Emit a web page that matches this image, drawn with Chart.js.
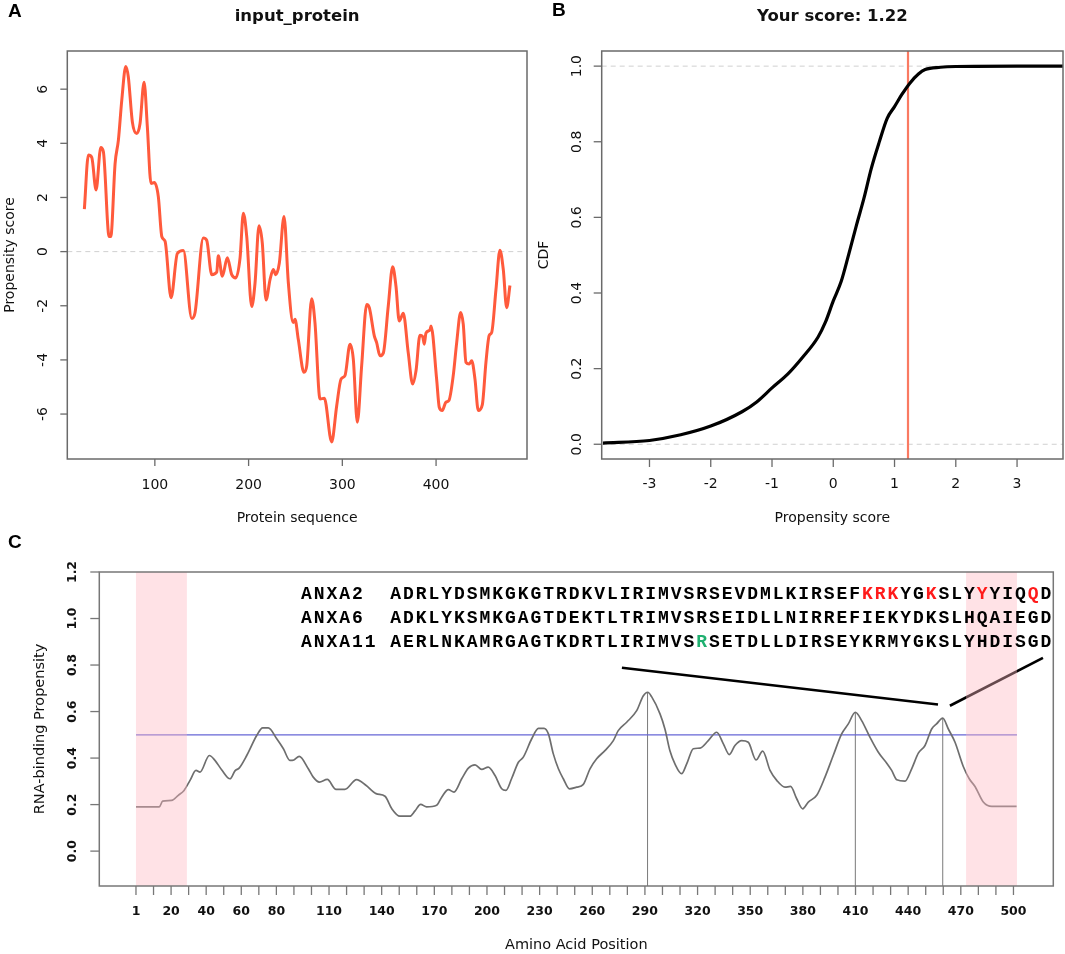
<!DOCTYPE html>
<html><head><meta charset="utf-8">
<script src="https://cdn.jsdelivr.net/npm/chart.js@4.4.0/dist/chart.umd.min.js"></script>
<style>
html,body{margin:0;padding:0;background:#fff;width:1065px;height:954px;overflow:hidden}
canvas{position:absolute;display:block}
</style></head><body>
<canvas id="ca" width="530" height="530" style="left:0;top:0;width:530px;height:530px"></canvas>
<canvas id="cb" width="535" height="530" style="left:530px;top:0;width:535px;height:530px"></canvas>
<canvas id="cc" width="1065" height="424" style="left:0;top:530px;width:1065px;height:424px"></canvas>
<script>
// ---------------- Panel A data ----------------
const posA = [24.8,29.1,32.7,37.3,42.3,45.1,51.2,53.0,57.6,61.1,64.7,69.0,71.7,76.0,80.7,84.2,88.5,92.0,95.9,99.5,103.7,107.4,110.9,117.3,124.0,130.4,139.4,142.9,151.7,155.3,160.7,166.0,167.7,172.0,177.3,182.0,186.3,190.9,194.4,198.0,203.3,206.9,211.1,214.6,218.6,222.9,226.4,228.9,232.8,237.8,242.4,247.5,249.5,253.0,259.1,262.0,267.3,270.8,276.2,280.8,288.6,294.0,298.6,302.8,308.2,311.7,316.0,320.6,326.0,328.8,334.1,336.6,340.2,343.7,349.0,353.7,357.2,360.7,365.0,370.3,375.0,378.6,382.8,385.7,387.4,389.2,393.5,394.6,400.6,403.4,406.6,410.5,413.7,418.3,422.0,426.2,429.0,431.9,435.4,438.0,441.5,445.0,449.3,453.2,456.7,459.3,463.9,468.1,471.7,475.3,478.8];
const scoreA = [1.57,3.57,3.48,2.28,3.85,3.69,0.56,0.56,3.26,4.12,5.59,6.84,6.45,4.79,4.36,4.73,6.26,4.61,2.52,2.55,2.03,0.56,0.38,-1.70,-0.07,0.04,-2.47,-2.25,0.50,0.42,-0.85,-0.76,-0.15,-0.91,-0.23,-0.85,-0.97,-0.23,1.42,0.56,-2.03,-1.15,0.96,0.32,-1.79,-1.03,-0.66,-0.85,-0.42,1.30,-1.15,-2.62,-2.50,-3.24,-4.46,-4.22,-1.74,-2.62,-5.44,-5.42,-7.03,-5.69,-4.71,-4.58,-3.42,-3.97,-6.30,-4.22,-1.95,-2.07,-3.11,-3.36,-3.85,-3.75,-2.01,-0.56,-1.27,-2.56,-2.28,-3.73,-4.89,-4.40,-3.09,-3.14,-3.42,-3.01,-2.89,-2.75,-4.71,-5.75,-5.87,-5.56,-5.50,-4.58,-3.36,-2.25,-2.68,-4.09,-4.15,-4.03,-4.71,-5.87,-5.66,-4.09,-3.09,-2.99,-1.40,0.05,-0.66,-2.07,-1.25];
const xTicksA = [100,200,300,400];
const yTicksA = [-6,-4,-2,0,2,4,6];

// ---------------- Panel B data ----------------
const cdfX = [-3.76,-3.0,-2.49,-2.0,-1.49,-1.25,-1.0,-0.74,-0.5,-0.25,-0.13,0.0,0.13,0.25,0.38,0.5,0.62,0.75,0.88,1.0,1.12,1.25,1.39,1.5,1.75,2.0,3.0,3.77];
const cdfY = [0.003,0.010,0.025,0.048,0.086,0.112,0.149,0.186,0.230,0.283,0.322,0.379,0.431,0.501,0.580,0.650,0.729,0.799,0.862,0.893,0.925,0.955,0.979,0.991,0.997,0.999,1.0,1.0];
const yourScore = 1.22;
const xTicksB = [-3,-2,-1,0,1,2,3];
const yTicksB = [0,0.2,0.4,0.6,0.8,1.0];
const yTickTextB = ["0.0","0.2","0.4","0.6","0.8","1.0"];

// ---------------- Panel C data ----------------
const posC = [0,13.3,15.2,20.3,24.1,27.4,30.8,34.2,36.5,41.8,45,48.8,53.6,56.4,58.9,63.1,68.8,72.2,75.4,80.2,84,87.7,90,93,98.2,101,104.5,109,114,119,125.7,131,136.8,141.9,145.7,150.4,156.1,159,162.2,165.6,171.3,174.2,178,181.2,185.6,189.4,193.2,197,200.7,204.6,208.4,210.8,214,217.9,220.7,225.5,229.3,232.5,235,237.8,240.7,243.5,247,251.1,254.9,258.7,262.5,267.2,272,274.8,279.6,285.3,289.1,291.6,293.8,298.6,301.4,304.3,307.1,310.9,313.8,317.6,321.4,326.1,330.9,334.7,338.1,341.3,345.1,348.9,353.3,357.1,361.3,365.1,369.8,373,376.5,379.9,383.1,387.9,392.6,397.3,402.1,405.9,409.9,413.5,418.2,423,427.8,430.6,433.5,438.2,442,445.8,449.6,453.4,456.2,459.7,462.9,466.7,471.4,474.8,478.1,482.8,487.6,501.8];
const propC = [0.190,0.190,0.215,0.218,0.240,0.261,0.304,0.347,0.340,0.411,0.390,0.350,0.311,0.345,0.358,0.411,0.497,0.530,0.530,0.483,0.440,0.390,0.392,0.407,0.354,0.318,0.297,0.308,0.265,0.265,0.307,0.283,0.247,0.236,0.183,0.150,0.150,0.173,0.201,0.190,0.197,0.232,0.264,0.254,0.311,0.357,0.371,0.351,0.361,0.325,0.268,0.261,0.311,0.382,0.404,0.483,0.528,0.528,0.504,0.418,0.354,0.311,0.268,0.275,0.287,0.354,0.397,0.432,0.475,0.518,0.554,0.604,0.668,0.683,0.664,0.590,0.525,0.430,0.375,0.333,0.375,0.440,0.443,0.475,0.511,0.461,0.415,0.454,0.475,0.468,0.392,0.430,0.347,0.304,0.275,0.278,0.225,0.182,0.211,0.240,0.318,0.411,0.504,0.547,0.597,0.561,0.490,0.425,0.378,0.347,0.307,0.301,0.354,0.421,0.454,0.525,0.547,0.572,0.525,0.468,0.364,0.311,0.278,0.211,0.192,0.192];
const threshold = 0.5;
const thresholdFrom = 0, thresholdTo = 502;
const peakPos = [291.5, 409.9, 459.7];
const peakVal = [0.683, 0.597, 0.572];
const bandStart = [0, 473];
const bandEnd = [29, 502];
const calloutX1 = [276.9, 457.0], calloutY1 = [0.788, 0.630];
const calloutX2 = [463.8, 516.8], calloutY2 = [0.625, 0.831];
const xTickPosC = [0,20,40,60,80,110,140,170,200,230,260,290,320,350,380,410,440,470,500];
const xTickTextC = ["1","20","40","60","80","110","140","170","200","230","260","290","320","350","380","410","440","470","500"];
const yTicksC = [0,0.2,0.4,0.6,0.8,1.0,1.2];
const yTickTextC = ["0.0","0.2","0.4","0.6","0.8","1.0","1.2"];
const seqNames = ["ANXA2","ANXA6","ANXA11"];
const seqs = ["ADRLYDSMKGKGTRDKVLIRIMVSRSEVDMLKIRSEFKRKYGKSLYYYIQQD",
              "ADKLYKSMKGAGTDEKTLTRIMVSRSEIDLLNIRREFIEKYDKSLHQAIEGD",
              "AERLNKAMRGAGTKDRTLIRIMVSRSETDLLDIRSEYKRMYGKSLYHDISGD"];
const redMarks = [[37,38,39,42,46,50],[],[]];
const greenMarks = [[],[],[24]];

// ---------------- helpers ----------------
const SANS = '"DejaVu Sans", Verdana, sans-serif';
const LETTER = '"Liberation Sans", Arial, sans-serif';
function pts(xs, ys){ return xs.map((x,i)=>({x:x, y:ys[i]})); }
function vtext(ctx, t, x, y){ ctx.save(); ctx.translate(x,y); ctx.rotate(-Math.PI/2); ctx.textAlign='center'; ctx.textBaseline='middle'; ctx.fillText(t,0,0); ctx.restore(); }
function setTicks(arr){ return function(s){ s.ticks = arr.map(v=>({value:v})); }; }

function rPlugin(o){
  return {
    id: 'r'+o.key,
    beforeDatasetsDraw(chart){
      const {ctx, chartArea:a, scales:{x,y}} = chart;
      (o.hdash||[]).forEach(v=>{
        const py = y.getPixelForValue(v);
        ctx.save(); ctx.strokeStyle='#d0d0d0'; ctx.lineWidth=1; ctx.setLineDash([5,4]);
        ctx.beginPath(); ctx.moveTo(a.left,py); ctx.lineTo(a.right,py); ctx.stroke(); ctx.restore();
      });
    },
    afterDatasetsDraw(chart){
      const {ctx, chartArea:a, scales:{x,y}} = chart;
      if (o.bands){
        ctx.save(); ctx.fillStyle='rgba(255,182,193,0.40)';
        o.bands[0].forEach((s,i)=>{
          const l = x.getPixelForValue(s), r = x.getPixelForValue(o.bands[1][i]);
          ctx.fillRect(l, a.top, r-l, a.bottom-a.top);
        });
        ctx.restore();
      }
    },
    afterDraw(chart){
      const {ctx, chartArea:a, scales:{x,y}} = chart;
      ctx.save();
      ctx.strokeStyle = o.boxColor || '#6a6a6a'; ctx.lineWidth = 1.5;
      ctx.strokeRect(a.left, a.top, a.right-a.left, a.bottom-a.top);
      ctx.lineWidth = 1.3;
      const xt = o.xMinor || x.ticks.map(t=>t.value);
      xt.forEach(v=>{ const px=x.getPixelForValue(v); ctx.beginPath(); ctx.moveTo(px,a.bottom); ctx.lineTo(px,a.bottom+o.tickLen); ctx.stroke(); });
      y.ticks.forEach(t=>{ const py=y.getPixelForValue(t.value); ctx.beginPath(); ctx.moveTo(a.left-o.tickLen,py); ctx.lineTo(a.left,py); ctx.stroke(); });
      ctx.fillStyle = '#111';
      ctx.font = o.tickFont; ctx.textAlign='center'; ctx.textBaseline='middle';
      x.ticks.forEach((t,i)=>{ const lab = o.xText ? o.xText[i] : String(t.value); ctx.fillText(lab, x.getPixelForValue(t.value), o.xLabelY); });
      y.ticks.forEach((t,i)=>{ const lab = o.yText ? o.yText[i] : String(t.value); vtext(ctx, lab, o.yLabelX, y.getPixelForValue(t.value)); });
      if (o.title){ ctx.font = 'bold 16.5px '+SANS; ctx.textAlign='center'; ctx.textBaseline='middle'; ctx.fillText(o.title, (a.left+a.right)/2, o.titleY); }
      ctx.font = o.axisFont; ctx.textAlign='center'; ctx.textBaseline='middle';
      ctx.fillText(o.xTitle, (a.left+a.right)/2, o.xTitleY);
      vtext(ctx, o.yTitle, o.yTitleX, (a.top+a.bottom)/2);
      ctx.font = 'bold 19px '+LETTER; ctx.textAlign='left'; ctx.textBaseline='middle'; ctx.fillStyle='#000';
      ctx.fillText(o.letter, o.letterX, o.letterY);
      if (o.extra) o.extra(ctx, chart);
      ctx.restore();
    }
  };
}

Chart.defaults.animation = false;
Chart.defaults.font.family = SANS;

function baseOpts(pad, xr, yr, xt, yt){
  return {
    responsive:false, maintainAspectRatio:false, animation:false,
    layout:{padding:pad},
    plugins:{legend:{display:false}, tooltip:{enabled:false}, title:{display:false}},
    elements:{point:{radius:0, hoverRadius:0}},
    scales:{
      x:{type:'linear', display:false, min:xr[0], max:xr[1], afterBuildTicks:setTicks(xt)},
      y:{type:'linear', display:false, min:yr[0], max:yr[1], afterBuildTicks:setTicks(yt)}
    }
  };
}

// ---------------- Chart A ----------------
new Chart(document.getElementById('ca'), {
  type:'scatter',
  data:{datasets:[{data:pts(posA,scoreA), showLine:true, borderColor:'#ff5a3c', borderWidth:3, cubicInterpolationMode:'monotone', pointRadius:0}]},
  options: baseOpts({left:67.3, right:3, top:51, bottom:71}, [6.6,497], [-7.66,7.41], xTicksA, yTicksA),
  plugins:[rPlugin({key:'A', hdash:[0], tickLen:7, tickFont:'14px '+SANS, axisFont:'14px '+SANS,
    xLabelY:485, yLabelX:43, title:'input_protein', titleY:17, xTitle:'Protein sequence', xTitleY:518,
    yTitle:'Propensity score', yTitleX:10, letter:'A', letterX:8, letterY:12})]
});

// ---------------- Chart B ----------------
new Chart(document.getElementById('cb'), {
  type:'scatter',
  data:{datasets:[
    {data:pts(cdfX,cdfY), showLine:true, borderColor:'#000', borderWidth:3.2, cubicInterpolationMode:'monotone', pointRadius:0},
    {data:[{x:yourScore,y:-0.04},{x:yourScore,y:1.04}], showLine:true, borderColor:'#fa7a62', borderWidth:2.2, pointRadius:0}
  ]},
  options: baseOpts({left:71.7, right:2, top:51, bottom:71}, [-3.78,3.75], [-0.039,1.04], xTicksB, yTicksB),
  plugins:[rPlugin({key:'B', hdash:[0,1], tickLen:8, tickFont:'14px '+SANS, axisFont:'14px '+SANS,
    xLabelY:484, yLabelX:47, yText:yTickTextB, title:'Your score: '+yourScore.toFixed(2), titleY:17, xTitle:'Propensity score', xTitleY:518,
    yTitle:'CDF', yTitleX:14, letter:'B', letterX:22, letterY:11})]
});

// ---------------- Chart C ----------------
const minorC = []; for (let v=0; v<=500; v+=10) minorC.push(v);
const dsC = [
  {data:pts(posC,propC), showLine:true, borderColor:'#6e6e6e', borderWidth:1.7, cubicInterpolationMode:'monotone', pointRadius:0, order:1},
  {data:[{x:thresholdFrom,y:threshold},{x:thresholdTo,y:threshold}], showLine:true, borderColor:'#6666d6', borderWidth:1.3, pointRadius:0, order:2},
  {data:pts(calloutX1,calloutY1), showLine:true, borderColor:'#000', borderWidth:2.6, pointRadius:0, order:0},
  {data:pts(calloutX2,calloutY2), showLine:true, borderColor:'#000', borderWidth:2.6, pointRadius:0, order:0}
];
peakPos.forEach((p,i)=>{ dsC.push({data:[{x:p,y:-0.15},{x:p,y:peakVal[i]}], showLine:true, borderColor:'#7a7a7a', borderWidth:1, pointRadius:0, order:3}); });

function drawSeqs(ctx){
  const step = 12.75, x0 = 300, ys = [68.5, 92.8, 116.5];
  ctx.font = 'bold 18px "Liberation Mono", "Courier New", monospace';
  ctx.textAlign='center'; ctx.textBaseline='alphabetic';
  seqNames.forEach((nm,r)=>{
    const line = (nm + '       ').slice(0,7) + seqs[r];
    for (let i=0;i<line.length;i++){
      const si = i-7;
      let col = '#000';
      if (si>=0 && redMarks[r].includes(si)) col = '#ff1a1a';
      if (si>=0 && greenMarks[r].includes(si)) col = '#1fb070';
      ctx.fillStyle = col;
      ctx.fillText(line[i], x0 + i*step + step/2, ys[r]);
    }
  });
}

new Chart(document.getElementById('cc'), {
  type:'scatter',
  data:{datasets:dsC},
  options: baseOpts({left:99.3, right:11.7, top:42, bottom:68}, [-20.9,522.7], [-0.15,1.2], xTickPosC, yTicksC),
  plugins:[rPlugin({key:'C', tickLen:9, tickFont:'bold 12.5px '+SANS, axisFont:'14.5px '+SANS, xMinor:minorC,
    bands:[bandStart,bandEnd], boxColor:'#777',
    xLabelY:382, yLabelX:73, xText:xTickTextC, yText:yTickTextC, xTitle:'Amino Acid Position', xTitleY:415,
    yTitle:'RNA-binding Propensity', yTitleX:40, letter:'C', letterX:8, letterY:13, extra:drawSeqs})]
});
</script>
</body></html>
